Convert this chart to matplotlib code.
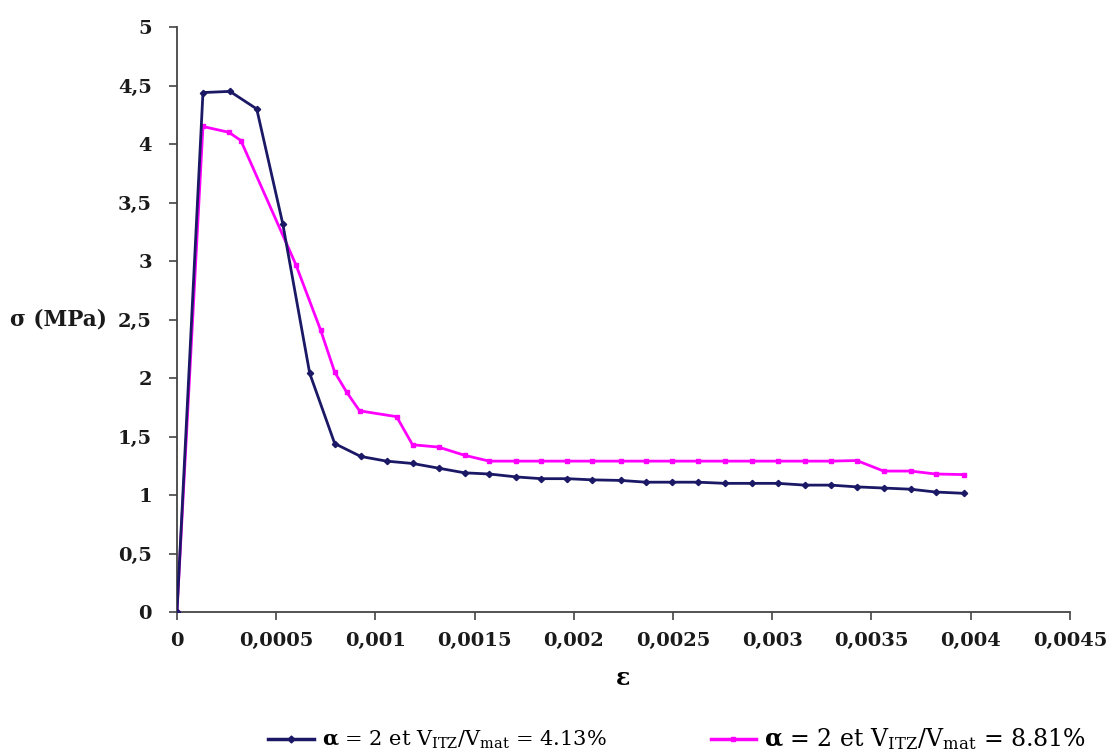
import matplotlib
matplotlib.use("Agg")
import matplotlib.pyplot as plt
from matplotlib.lines import Line2D

plt.rcParams['font.family'] = ['DejaVu Serif']
plt.rcParams['mathtext.fontset'] = 'dejavuserif'

# Series 1: alpha = 2, V_ITZ/V_mat = 4.13 %
strain_a = [0, 0.000131, 0.000267, 0.000402, 0.000533, 0.000669, 0.000795, 0.000926,
            0.001056, 0.001187, 0.001318, 0.001449, 0.001574, 0.00171, 0.001836, 0.001967,
            0.002093, 0.002238, 0.002364, 0.002495, 0.002626, 0.002762, 0.002897, 0.003028,
            0.003164, 0.003295, 0.003426, 0.003561, 0.003697, 0.003823, 0.003964]
stress_a = [0, 4.44, 4.45, 4.30, 3.32, 2.04, 1.44, 1.33,
            1.29, 1.27, 1.23, 1.19, 1.18, 1.155, 1.14, 1.14,
            1.13, 1.125, 1.11, 1.11, 1.11, 1.10, 1.10, 1.10,
            1.085, 1.085, 1.07, 1.06, 1.05, 1.026, 1.015]

# Series 2: alpha = 2, V_ITZ/V_mat = 8.81 %
strain_b = [0, 0.000131, 0.000262, 0.000322, 0.000599, 0.000724, 0.000795, 0.000855,
            0.00092, 0.001107, 0.001187, 0.001318, 0.001449, 0.001574, 0.00171, 0.001836,
            0.001967, 0.002093, 0.002238, 0.002364, 0.002495, 0.002626, 0.002762, 0.002897,
            0.003028, 0.003164, 0.003295, 0.003426, 0.003561, 0.003697, 0.003823, 0.003964]
stress_b = [0, 4.15, 4.10, 4.03, 2.97, 2.41, 2.05, 1.88,
            1.72, 1.67, 1.43, 1.41, 1.34, 1.29, 1.29, 1.29,
            1.29, 1.29, 1.29, 1.29, 1.29, 1.29, 1.29, 1.29,
            1.29, 1.29, 1.29, 1.295, 1.205, 1.205, 1.18, 1.175]

label_a = r'$\mathbf{α}$ = 2 et V$_{\mathrm{ITZ}}$/V$_{\mathrm{mat}}$ = 4.13%'
label_b = r'$\mathbf{α}$ = 2 et V$_{\mathrm{ITZ}}$/V$_{\mathrm{mat}}$ = 8.81%'

x_ticks = [0, 0.0005, 0.001, 0.0015, 0.002, 0.0025, 0.003, 0.0035, 0.004, 0.0045]
x_labels = ['0', '0,0005', '0,001', '0,0015', '0,002', '0,0025', '0,003', '0,0035', '0,004', '0,0045']
y_ticks = [0, 0.5, 1, 1.5, 2, 2.5, 3, 3.5, 4, 4.5, 5]
y_labels = ['0', '0,5', '1', '1,5', '2', '2,5', '3', '3,5', '4', '4,5', '5']

navy = '#1b1866'
magenta = '#ff00ff'

fig = plt.figure(figsize=(11.13, 7.51), dpi=100)
ax = fig.add_axes([0.159, 0.185, 0.8023, 0.779])

ax.plot(strain_a, stress_a, color=navy, lw=2.0, marker='D', ms=3.2, zorder=3)
ax.plot(strain_b, stress_b, color=magenta, lw=2.0, marker='s', ms=3.2, zorder=2)

ax.set_xlim(0, 0.0045)
ax.set_ylim(0, 5)
ax.set_xticks(x_ticks)
ax.set_xticklabels(x_labels)
ax.set_yticks(y_ticks)
ax.set_yticklabels(y_labels)
for s in ['top', 'right']:
    ax.spines[s].set_visible(False)
for s in ['left', 'bottom']:
    ax.spines[s].set_color('#444444')
    ax.spines[s].set_linewidth(1.3)
ax.tick_params(axis='both', direction='out', length=6, width=1.2, color='#444444',
               labelsize=14)
ax.tick_params(axis='y', pad=12)
ax.tick_params(axis='x', pad=8)
for lab in ax.get_xticklabels() + ax.get_yticklabels():
    lab.set_fontweight('bold')
    lab.set_color('#1a1a1a')

ax.set_xlabel('ε', fontsize=17, fontweight='bold', labelpad=12)
fig.text(0.009, 0.5746, 'σ (MPa)', fontsize=15.5, fontweight='bold', ha='left', va='center',
         color='#1a1a1a')

h_a = Line2D([], [], color=navy, lw=2.5, marker='D', ms=3.5)
h_b = Line2D([], [], color=magenta, lw=2.5, marker='s', ms=3.5)
leg = fig.legend([h_a, h_b], [label_a, label_b], loc='center', ncol=2,
                 bbox_to_anchor=(0.608, 0.016), frameon=False, fontsize=15,
                 handlelength=2.2, handletextpad=0.35, columnspacing=5.0)
leg.get_texts()[1].set_fontsize(17)

fig.savefig('out.png', dpi=100)
